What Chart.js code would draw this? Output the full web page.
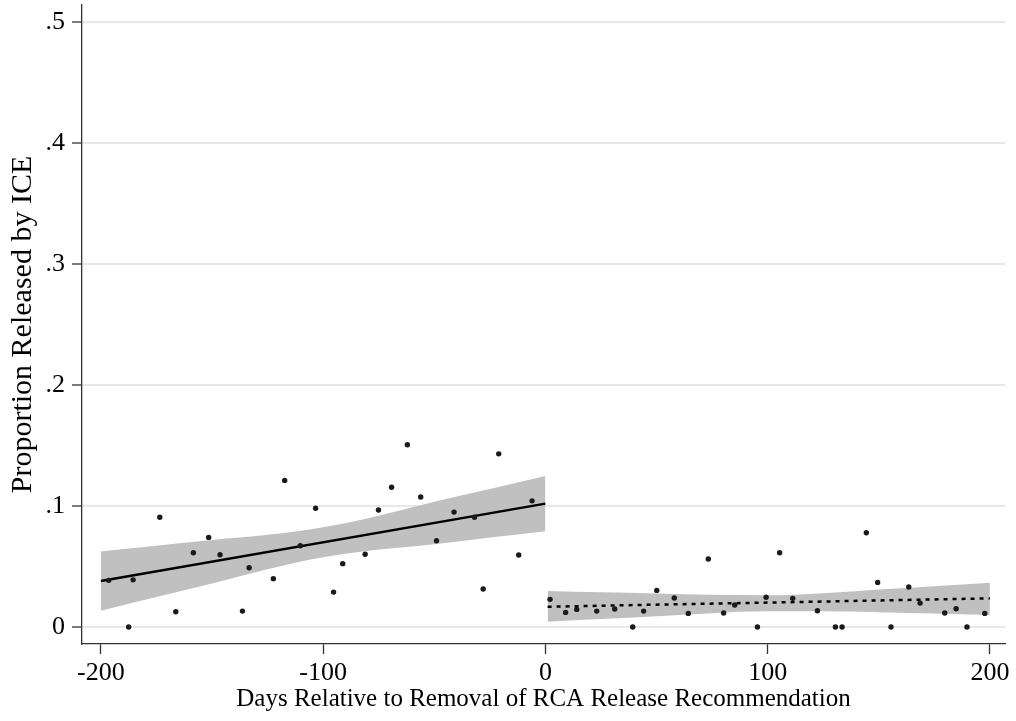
<!DOCTYPE html>
<html>
<head>
<meta charset="utf-8">
<title>Proportion Released by ICE</title>
<script src="https://cdn.jsdelivr.net/npm/chart.js@4/dist/chart.umd.min.js"></script>
<style>
  html, body { margin: 0; padding: 0; background: #ffffff; }
  canvas { display: block; }
</style>
</head>
<body>
<canvas id="rd" width="1016" height="721"></canvas>
<script>
// Weekly release shares before the policy change (days < 0)
const leftDays = [-196.5, -187.5, -185.5, -173.5, -166.3, -158.4, -151.5, -146.4, -136.3, -133.3,
                  -122.4, -117.3, -110.3, -103.4, -95.3, -91.2, -81.1, -75.1, -69.2, -62.1,
                  -56.1, -49.0, -41.1, -31.9, -28.0, -21.0, -12.0, -6.0];
const leftShare = [0.0386, 0.0000, 0.0390, 0.0907, 0.0127, 0.0614, 0.0741, 0.0598, 0.0132, 0.0490,
                   0.0400, 0.1212, 0.0672, 0.0982, 0.0289, 0.0524, 0.0601, 0.0967, 0.1155, 0.1507,
                   0.1075, 0.0713, 0.0950, 0.0907, 0.0315, 0.1431, 0.0595, 0.1043];

// Weekly release shares after the policy change (days > 0)
const rightDays = [2.1, 9.1, 14.1, 23.1, 31.2, 39.3, 44.2, 50.1, 58.0, 64.3,
                   73.3, 80.2, 85.2, 95.4, 99.3, 105.4, 111.3, 122.4, 130.5, 133.5,
                   144.4, 149.5, 155.5, 163.5, 168.6, 179.7, 184.8, 189.7, 197.7];
const rightShare = [0.0229, 0.0121, 0.0146, 0.0132, 0.0149, 0.0000, 0.0132, 0.0303, 0.0240, 0.0113,
                    0.0562, 0.0116, 0.0182, 0.0000, 0.0246, 0.0614, 0.0237, 0.0135, 0.0000, 0.0000,
                    0.0779, 0.0369, 0.0000, 0.0331, 0.0198, 0.0116, 0.0151, 0.0000, 0.0113];

// Linear fits on each side of the cutoff
const leftFitDays = [-200, 0];
const leftFitShare = [0.038, 0.102];
const rightFitDays = [1, 200];
const rightFitShare = [0.0168, 0.0237];

// 95% confidence bands around the fits
const leftBandDays = [-200, -175, -150, -125, -100, -75, -50, -25, 0];
const leftBandHigh = [0.0625, 0.0672, 0.0720, 0.0762, 0.0824, 0.0920, 0.1035, 0.1140, 0.1248];
const leftBandLow  = [0.0135, 0.0248, 0.0360, 0.0478, 0.0576, 0.0640, 0.0685, 0.0740, 0.0792];
const rightBandDays = [1, 25, 50, 75, 100, 125, 150, 175, 200];
const rightBandHigh = [0.0298, 0.0287, 0.0277, 0.0266, 0.0262, 0.0280, 0.0310, 0.0338, 0.0366];
const rightBandLow  = [0.0044, 0.0066, 0.0090, 0.0115, 0.0130, 0.0130, 0.0122, 0.0111, 0.0099];

// Axis ticks
const xTicks = [-200, -100, 0, 100, 200];
const yTicks = [0, 0.1, 0.2, 0.3, 0.4, 0.5];

const pairs = (xs, ys) => xs.map((x, i) => ({ x: x, y: ys[i] }));

const serif = 'Liberation Serif, Times New Roman, serif';
const bandGray = 'rgb(192,192,192)';
const ink = '#1a1a1a';
const axisInk = '#333333';

Chart.defaults.font.family = serif;
Chart.defaults.color = '#000000';

const bandStyle = {
  type: 'line',
  borderWidth: 0,
  borderColor: 'rgba(0,0,0,0)',
  pointRadius: 0,
  cubicInterpolationMode: 'monotone',
  backgroundColor: bandGray,
  order: 3
};

// Keep the plot box fixed: no extra room reserved for overhanging tick labels
const noOverhang = (scale) => {
  scale.paddingTop = 0;
  scale.paddingBottom = 0;
  scale.paddingLeft = 0;
  scale.paddingRight = 0;
};

new Chart(document.getElementById('rd'), {
  type: 'scatter',
  data: {
    datasets: [
      Object.assign({}, bandStyle, { label: 'band-left-high', data: pairs(leftBandDays, leftBandHigh), fill: '+1' }),
      Object.assign({}, bandStyle, { label: 'band-left-low', data: pairs(leftBandDays, leftBandLow), fill: false }),
      Object.assign({}, bandStyle, { label: 'band-right-high', data: pairs(rightBandDays, rightBandHigh), fill: '+1' }),
      Object.assign({}, bandStyle, { label: 'band-right-low', data: pairs(rightBandDays, rightBandLow), fill: false }),
      {
        type: 'line', label: 'fit-left', data: pairs(leftFitDays, leftFitShare),
        borderColor: '#000000', borderWidth: 2.5, pointRadius: 0, fill: false, order: 2
      },
      {
        type: 'line', label: 'fit-right', data: pairs(rightFitDays, rightFitShare),
        borderColor: '#000000', borderWidth: 2.5, borderDash: [4, 5], pointRadius: 0, fill: false, order: 2
      },
      {
        label: 'before', data: pairs(leftDays, leftShare),
        pointRadius: 2.7, pointBorderWidth: 0, pointBackgroundColor: ink, backgroundColor: ink, order: 1
      },
      {
        label: 'after', data: pairs(rightDays, rightShare),
        pointRadius: 2.7, pointBorderWidth: 0, pointBackgroundColor: ink, backgroundColor: ink, order: 1
      }
    ]
  },
  options: {
    responsive: false,
    animation: false,
    devicePixelRatio: 1,
    layout: { padding: { top: 5, right: 11, bottom: 0, left: 0 } },
    plugins: {
      legend: { display: false },
      tooltip: { enabled: false },
      filler: { propagate: false }
    },
    scales: {
      x: {
        type: 'linear',
        min: -208.5,
        max: 206.8,
        afterBuildTicks: (scale) => { scale.ticks = xTicks.map(v => ({ value: v })); },
        afterFit: (scale) => { scale.height = 77; noOverhang(scale); },
        border: { display: true, color: axisInk, width: 1.3 },
        grid: { drawOnChartArea: false, drawTicks: true, tickLength: 10, tickColor: axisInk, tickWidth: 1.3 },
        ticks: {
          padding: 4,
          font: { size: 26, family: serif },
          color: '#000000',
          maxRotation: 0,
          callback: (v) => String(v)
        },
        title: {
          display: true,
          text: 'Days Relative to Removal of RCA Release Recommendation',
          font: { size: 25, family: serif },
          color: '#000000',
          padding: { top: 0, bottom: 7 }
        }
      },
      y: {
        type: 'linear',
        min: -0.014,
        max: 0.514,
        afterBuildTicks: (scale) => { scale.ticks = yTicks.map(v => ({ value: v })); },
        afterFit: (scale) => { scale.width = 82; noOverhang(scale); },
        border: { display: true, color: axisInk, width: 1.3 },
        grid: { color: '#e8e8e8', lineWidth: 2, drawTicks: true, tickLength: 10, tickColor: axisInk, tickWidth: 1.3 },
        ticks: {
          padding: 7,
          font: { size: 26, family: serif },
          color: '#000000',
          callback: (v) => (v === 0 ? '0' : String(Math.round(v * 10) / 10).replace(/^0/, ''))
        },
        title: {
          display: true,
          text: 'Proportion Released by ICE',
          font: { size: 30, family: serif },
          color: '#000000',
          padding: { top: 5, bottom: 0 }
        }
      }
    }
  }
});
</script>
</body>
</html>
